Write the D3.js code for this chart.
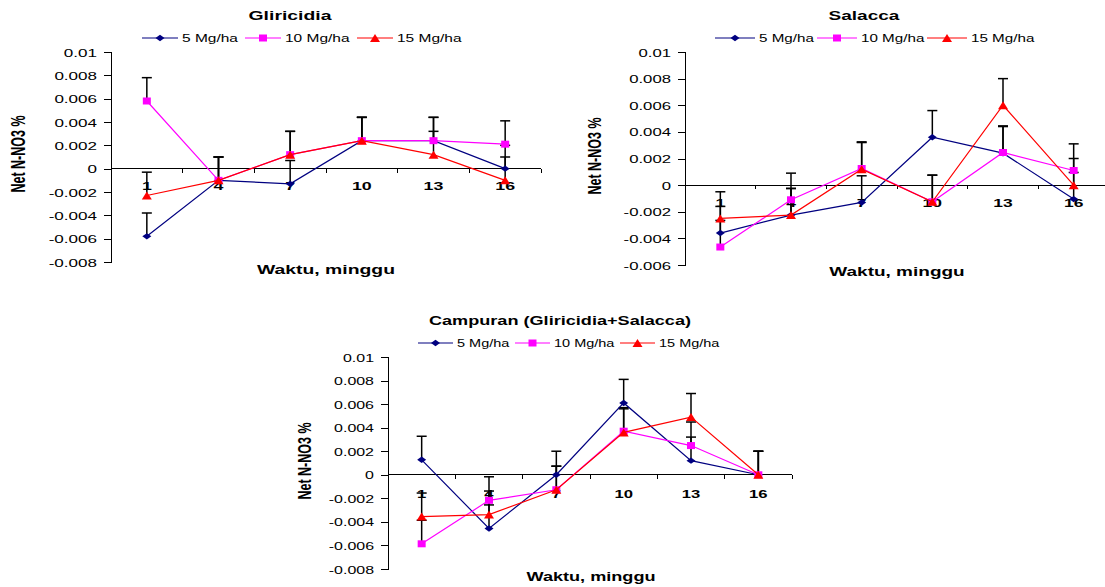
<!DOCTYPE html>
<html lang="en">
<head>
    <meta charset="UTF-8">
    <title>Net N-NO3 %</title>
    <script src="https://d3js.org/d3.v7.min.js"></script>
    <style>
        body { margin: 0; background: #fff; }
        svg { display: block; }
        text { font-family: "Liberation Sans", Arial, sans-serif; }
        .axis path, .axis line { stroke: #000; shape-rendering: crispEdges; }
    </style>
</head>
<body>
    <svg id="chart" width="1105" height="587"></svg>

    <script>
        // categories and series
        const weeks = ["1", "4", "7", "10", "13", "16"];
        const doses = ["5 Mg/ha", "10 Mg/ha", "15 Mg/ha"];
        const colors = ["#000080", "#FF00FF", "#FF0000"];

        const gliricidia5  = [-0.0058, -0.001, -0.0013, 0.0024, 0.0024, 0.0];
        const gliricidia10 = [0.0058, -0.001, 0.0012, 0.0024, 0.0024, 0.0021];
        const gliricidia15 = [-0.0023, -0.001, 0.0012, 0.0024, 0.0012, -0.001];

        const salacca5  = [-0.0036, -0.00225, -0.0013, 0.0036, 0.0024, -0.00105];
        const salacca10 = [-0.00465, -0.0011, 0.00125, -0.00125, 0.00245, 0.0011];
        const salacca15 = [-0.0025, -0.00225, 0.0012, -0.00125, 0.006, 0.0];

        const campuran5  = [0.00127, -0.00456, 0.0, 0.0061, 0.0012, 0.0];
        const campuran10 = [-0.00586, -0.00217, -0.00127, 0.0037, 0.00248, 0.0];
        const campuran15 = [-0.00355, -0.00338, -0.00127, 0.0036, 0.0049, 0.0];

        // plus-only error bars
        const errorPlus = [0.002, 0.002, 0.002, 0.002, 0.002, 0.002];

        const yTicksA = [-0.008, -0.006, -0.004, -0.002, 0, 0.002, 0.004, 0.006, 0.008, 0.01];
        const yTicksB = [-0.006, -0.004, -0.002, 0, 0.002, 0.004, 0.006, 0.008, 0.01];

        const panels = [
            { title: "Gliricidia", series: [gliricidia5, gliricidia10, gliricidia15], ticks: yTicksA,
              x0: 111, x1: 541, yTop: 52, yBot: 262, sx: 1.55,
              titlePos: [290, 20], legend: [142, 38, 36, [0, 103, 215]],
              xTitle: [326, 274], yTitle: [25, 154], labelOff: 21 },
            { title: "Salacca", series: [salacca5, salacca10, salacca15], ticks: yTicksB,
              x0: 685, x1: 1109, yTop: 52, yBot: 265, sx: 1.52,
              titlePos: [864, 20], legend: [715, 38, 40, [0, 102, 212]],
              xTitle: [897, 276], yTitle: [601, 156], labelOff: 22 },
            { title: "Campuran (Gliricidia+Salacca)", series: [campuran5, campuran10, campuran15], ticks: yTicksA,
              x0: 388, x1: 792, yTop: 357, yBot: 569, sx: 1.45,
              titlePos: [560, 325], legend: [418, 343, 35, [0, 97, 202]],
              xTitle: [591, 581], yTitle: [311, 461], labelOff: 23 }
        ];

        const svg = d3.select("#chart");

        // markers: diamond, square, triangle (stretched sideways like the source)
        const markerPath = [
            "M-4.5,0L0,-3.2L4.5,0L0,3.2Z",
            "M-4,-3.5H4V3.5H-4Z",
            "M-5,4L0,-4L5,4Z"
        ];

        function stretchedText(g, x, y, str, size, weight, anchor, sx, rotate) {
            return g.append("text")
                .attr("transform", `translate(${x},${y}) scale(${sx},1)` + (rotate ? " rotate(-90)" : ""))
                .attr("text-anchor", anchor)
                .attr("font-family", "'Liberation Sans', Arial, sans-serif")
                .attr("font-size", size)
                .attr("font-weight", weight)
                .attr("fill", "#000")
                .text(str);
        }

        panels.forEach(p => {
            const g = svg.append("g");
            const x = d3.scaleBand().domain(weeks).range([p.x0, p.x1]);
            const y = d3.scaleLinear().domain([p.ticks[0], p.ticks[p.ticks.length - 1]]).range([p.yBot, p.yTop]);
            const cx = w => x(w) + x.bandwidth() / 2;

            // y axis
            const ya = g.append("g").attr("class", "axis")
                .attr("transform", `translate(${p.x0},0)`)
                .call(d3.axisLeft(y).tickValues(p.ticks).tickSize(7).tickFormat(d => String(d)))
                .attr("font-family", null).attr("font-size", null);
            ya.selectAll("text").remove();
            ya.selectAll(".tick").each(function(d) {
                stretchedText(d3.select(this), -14, 4, String(d), 11, "normal", "end", p.sx);
            });

            // x axis at zero with ticks on band edges
            const y0 = y(0);
            g.append("line")
                .attr("x1", p.x0).attr("x2", p.x1).attr("y1", y0).attr("y2", y0)
                .attr("stroke", "#000").attr("shape-rendering", "crispEdges");
            const edges = weeks.map(w => x(w)).concat([p.x1]);
            g.selectAll(".xtick").data(edges).enter().append("line")
                .attr("x1", d => d).attr("x2", d => d)
                .attr("y1", y0).attr("y2", y0 + 4)
                .attr("stroke", "#000").attr("shape-rendering", "crispEdges");
            weeks.forEach(w => stretchedText(g, cx(w), y0 + p.labelOff, w, 11.5, "bold", "middle", p.sx));

            // error bars
            p.series.forEach(vals => {
                vals.forEach((v, i) => {
                    const xx = cx(weeks[i]);
                    const top = y(v + errorPlus[i]);
                    g.append("line").attr("x1", xx).attr("x2", xx)
                        .attr("y1", y(v)).attr("y2", top)
                        .attr("stroke", "#000").attr("stroke-width", 1.5);
                    g.append("line").attr("x1", xx - 5).attr("x2", xx + 5)
                        .attr("y1", top).attr("y2", top)
                        .attr("stroke", "#000").attr("stroke-width", 1.5);
                });
            });

            // series lines and markers
            const line = d3.line().x((d, i) => cx(weeks[i])).y(d => y(d));
            p.series.forEach((vals, s) => {
                g.append("path").datum(vals)
                    .attr("d", line)
                    .attr("fill", "none")
                    .attr("stroke", colors[s])
                    .attr("stroke-width", 1.2);
                g.selectAll(".m" + s).data(vals).enter().append("path")
                    .attr("d", markerPath[s])
                    .attr("transform", (d, i) => `translate(${cx(weeks[i])},${y(d)})`)
                    .attr("fill", colors[s]);
            });

            // title
            stretchedText(g, p.titlePos[0], p.titlePos[1], p.title, 12.5, "bold", "middle", p.sx);

            // legend
            const [lx, ly, len, offs] = p.legend;
            doses.forEach((name, s) => {
                const sx0 = lx + offs[s];
                g.append("line").attr("x1", sx0).attr("x2", sx0 + len)
                    .attr("y1", ly).attr("y2", ly)
                    .attr("stroke", colors[s]).attr("stroke-width", 1.2);
                g.append("path").attr("d", markerPath[s])
                    .attr("transform", `translate(${sx0 + len / 2},${ly})`)
                    .attr("fill", colors[s]);
                stretchedText(g, sx0 + len + 4, ly + 3.5, name, 10, "normal", "start", p.sx);
            });

            // axis titles
            stretchedText(g, p.xTitle[0], p.xTitle[1], "Waktu, minggu", 12.5, "bold", "middle", p.sx);
            stretchedText(g, p.yTitle[0], p.yTitle[1], "Net N-NO3 %", 12.5, "bold", "middle", p.sx, true);
        });
    </script>
</body>
</html>
